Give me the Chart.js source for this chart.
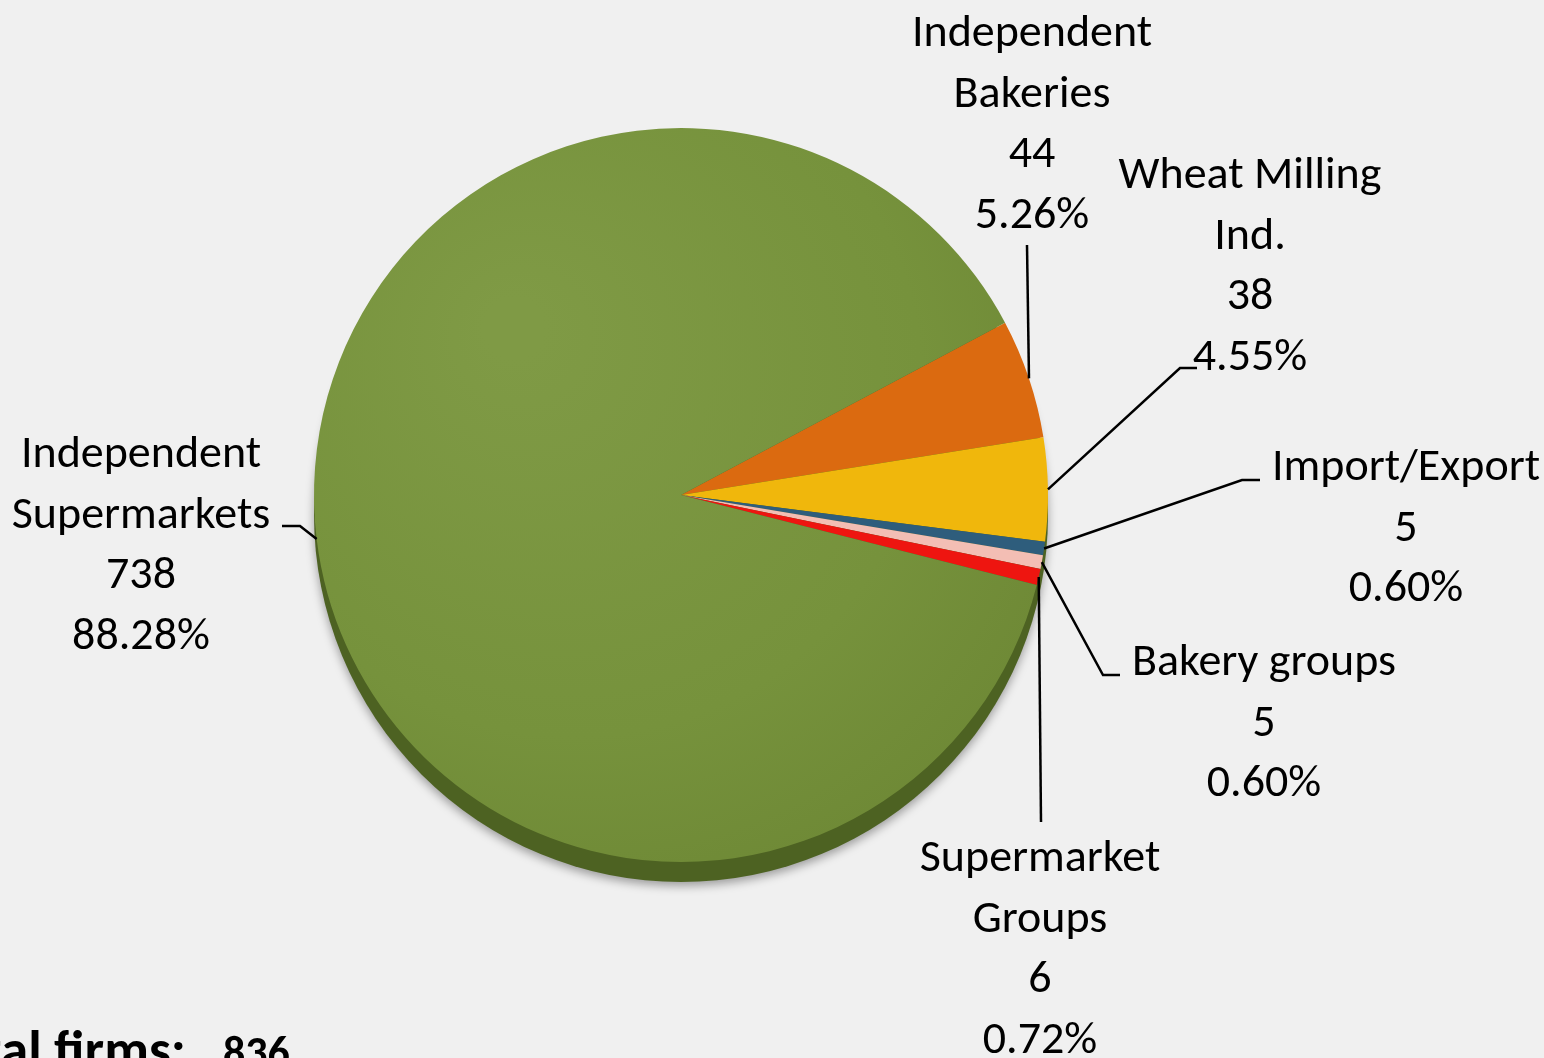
<!DOCTYPE html>
<html>
<head>
<meta charset="utf-8">
<script src="https://cdn.jsdelivr.net/npm/chart.js@4.4.1/dist/chart.umd.min.js"></script>
<style>
  html, body { margin: 0; padding: 0; background: #f0f0f0; overflow: hidden; }
  canvas { display: block; }
</style>
</head>
<body>
<canvas id="pie" width="1544" height="1058"></canvas>
<script>
// Chart data
const categories = [
    ["Independent", "Bakeries"],
    ["Wheat Milling", "Ind."],
    ["Import/Export"],
    ["Bakery groups"],
    ["Supermarket", "Groups"],
    ["Independent", "Supermarkets"]
]
const firms = [44, 38, 5, 5, 6, 738]
const totalFirms = 836
const colors = ["#db6a10", "#f0b70c", "#2e5d7c", "#f3beb4", "#ee1510", "#76923c"]

// Label placement (text centre x, first baseline y, leader bend points from slice edge outwards)
const labelLayout = [
    { x: 1032, y: 46,  pts: [[1027, 245]] },
    { x: 1250, y: 188, pts: [[1180, 368], [1197, 368]] },
    { x: 1406, y: 480, pts: [[1242, 480], [1260, 480]] },
    { x: 1264, y: 675, pts: [[1103, 675], [1120, 675]] },
    { x: 1040, y: 871, pts: [[1041, 822]] },
    { x: 141,  y: 467, pts: [[300, 526], [282, 526]] }
]
const lineGap = 60.5
const labelFont = "46px Carlito, Lato, sans-serif"

const pieShadow = {
    id: "pieShadow",
    beforeDatasetsDraw(chart) {
        const arc = chart.getDatasetMeta(0).data[0]
        if (!arc) return
        const ctx = chart.ctx
        ctx.save()
        ctx.shadowColor = "rgba(0,0,0,0.35)"
        ctx.shadowBlur = 10
        ctx.shadowOffsetY = 4
        ctx.fillStyle = "#4d6222"
        ctx.beginPath()
        ctx.arc(arc.x, arc.y + 20, arc.outerRadius, 0, Math.PI * 2)
        ctx.fill()
        ctx.restore()
    }
}

const sliceLabels = {
    id: "sliceLabels",
    afterDraw(chart) {
        const ctx = chart.ctx
        const meta = chart.getDatasetMeta(0)
        ctx.save()
        ctx.strokeStyle = "#000"
        ctx.lineWidth = 2.5
        ctx.fillStyle = "#000"
        ctx.font = labelFont
        ctx.textAlign = "center"
        ctx.textBaseline = "alphabetic"
        meta.data.forEach((arc, i) => {
            const p = arc.getProps(["x", "y", "startAngle", "endAngle", "outerRadius"], true)
            const mid = (p.startAngle + p.endAngle) / 2
            const ax = p.x + Math.cos(mid) * p.outerRadius
            const ay = p.y + Math.sin(mid) * p.outerRadius
            const lay = labelLayout[i]
            ctx.beginPath()
            ctx.moveTo(ax, ay)
            lay.pts.forEach(pt => ctx.lineTo(pt[0], pt[1]))
            ctx.stroke()
            const pct = (firms[i] / totalFirms * 100).toFixed(2) + "%"
            const lines = categories[i].concat([String(firms[i]), pct])
            lines.forEach((t, k) => ctx.fillText(t, lay.x, lay.y + k * lineGap))
        })
        // total
        ctx.textAlign = "right"
        ctx.font = "bold 55px Carlito, Lato, sans-serif"
        ctx.fillText("Total firms:", 186, 1068)
        ctx.textAlign = "left"
        ctx.font = "bold 44px Carlito, Lato, sans-serif"
        ctx.fillText(String(totalFirms), 223, 1067)
        ctx.restore()
    }
}

function greenFill(context) {
    const area = context.chart.chartArea
    if (!area) return colors[5]
    const c = context.chart.ctx
    const g = c.createRadialGradient(area.left + 200, area.top + 200, 30,
                                     area.left + 300, area.top + 300, 560)
    g.addColorStop(0, "#7f9a45")
    g.addColorStop(0.6, "#76923c")
    g.addColorStop(1, "#6b8533")
    return g
}

new Chart(document.getElementById("pie"), {
    type: "pie",
    data: {
        labels: categories.map(c => c.join(" ")),
        datasets: [{
            data: firms,
            backgroundColor: ctx => ctx.dataIndex === 5 ? greenFill(ctx) : colors[ctx.dataIndex],
            borderWidth: 0
        }]
    },
    options: {
        responsive: false,
        animation: false,
        rotation: 62,
        layout: { padding: { left: 314, right: 496, top: 128, bottom: 196 } },
        plugins: {
            legend: { display: false },
            tooltip: { enabled: false }
        }
    },
    plugins: [pieShadow, sliceLabels]
})
</script>
</body>
</html>
